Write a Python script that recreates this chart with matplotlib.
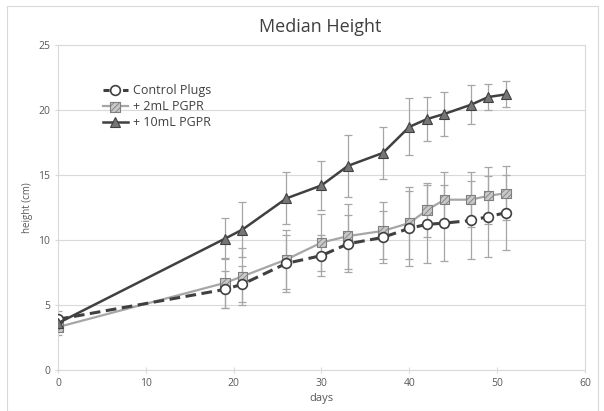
import matplotlib.pyplot as plt
from matplotlib.lines import Line2D
from matplotlib.patches import Rectangle

plt.rcParams['font.family'] = ['Open Sans', 'DejaVu Sans']
plt.rcParams['hatch.color'] = '#6a6a6a'
plt.rcParams['hatch.linewidth'] = 0.6

# data
days = [0, 19, 21, 26, 30, 33, 37, 40, 42, 44, 47, 49, 51]
control = [3.9, 6.2, 6.6, 8.2, 8.8, 9.7, 10.2, 10.9, 11.2, 11.3, 11.5, 11.8, 12.1]
control_err = [0.6, 1.4, 1.4, 2.2, 1.6, 2.2, 2.0, 2.9, 3.0, 2.9, 3.0, 3.1, 2.9]
pgpr_2 = [3.3, 6.7, 7.2, 8.5, 9.8, 10.3, 10.7, 11.3, 12.3, 13.1, 13.1, 13.4, 13.6]
pgpr_2_err = [0.6, 1.9, 2.2, 2.3, 2.2, 2.5, 2.2, 2.8, 2.1, 2.1, 2.1, 2.2, 2.1]
pgpr_10 = [3.6, 10.1, 10.8, 13.2, 14.2, 15.7, 16.7, 18.7, 19.3, 19.7, 20.4, 21.0, 21.2]
pgpr_10_err = [0.5, 1.6, 2.1, 2.0, 1.9, 2.4, 2.0, 2.2, 1.7, 1.7, 1.5, 1.0, 1.0]

labels = ['Control Plugs', '+ 2mL PGPR', '+ 10mL PGPR']
x_ticks = [0, 10, 20, 30, 40, 50, 60]
y_ticks = [0, 5, 10, 15, 20, 25]

dark = '#404040'
light = '#a6a6a6'
grid_col = '#d9d9d9'
text_col = '#595959'

fig = plt.figure(figsize=(6.04, 4.11), dpi=100)
fig.patches.append(Rectangle((0.012, 0.0), 0.978, 0.985, transform=fig.transFigure,
                             fill=False, edgecolor='#d9d9d9', linewidth=0.8))
ax = fig.add_axes([0.096, 0.0998, 0.8725, 0.7907])

# error bars behind the lines
for vals, errs in [(control, control_err), (pgpr_2, pgpr_2_err), (pgpr_10, pgpr_10_err)]:
    ax.errorbar(days, vals, yerr=errs, fmt='none', ecolor=light, elinewidth=0.9,
                capsize=3, capthick=0.9, zorder=2)

ax.plot(days, pgpr_2, color=light, linewidth=1.6, zorder=3)
ax.scatter(days, pgpr_2, marker='s', s=45, facecolor='#c8c8c8', edgecolor='#7f7f7f',
           linewidth=0.8, hatch='//////', zorder=4)
ax.plot(days, control, color=dark, linewidth=2.2, linestyle=(0, (3.5, 1.8)),
        marker='o', markersize=7, markerfacecolor='white', markeredgecolor=dark,
        markeredgewidth=1.2, zorder=5)
ax.plot(days, pgpr_10, color=dark, linewidth=1.8, marker='^', markersize=7.5,
        markerfacecolor='#767676', markeredgecolor=dark, markeredgewidth=0.8, zorder=6)

h_ctrl = Line2D([], [], color=dark, linewidth=2.2, linestyle=(0, (2, 1.2)), marker='o',
                markersize=7, markerfacecolor='white', markeredgecolor=dark, markeredgewidth=1.2)
h_2 = (Line2D([], [], color=light, linewidth=1.6),
       ax.scatter([], [], marker='s', s=45, facecolor='#c8c8c8', edgecolor='#7f7f7f',
                  linewidth=0.8, hatch='//////'))
h_10 = Line2D([], [], color=dark, linewidth=1.8, marker='^', markersize=7.5,
              markerfacecolor='#767676', markeredgecolor=dark, markeredgewidth=0.8)
ax.legend([h_ctrl, h_2, h_10], labels, loc='upper left', bbox_to_anchor=(0.075, 0.895),
          frameon=False, fontsize=9, handlelength=2.0, handletextpad=0.4,
          labelspacing=0.25, borderaxespad=0, labelcolor=dark)

ax.set_xlim(0, 60)
ax.set_ylim(0, 25)
ax.set_xticks(x_ticks)
ax.set_yticks(y_ticks)
ax.yaxis.grid(True, color=grid_col, linewidth=0.8)
ax.set_axisbelow(True)
for side in ['top', 'right', 'left', 'bottom']:
    ax.spines[side].set_color(grid_col)
    ax.spines[side].set_linewidth(0.8)
ax.tick_params(axis='both', colors=grid_col, labelcolor=text_col, labelsize=7.5,
               length=4, direction='inout')
ax.set_xlabel('days', fontsize=8, color=text_col, labelpad=3)
ax.set_ylabel('height (cm)', fontsize=7, color=text_col, labelpad=4)
fig.suptitle('Median Height', x=0.53, y=0.955, fontsize=13, color=dark)

fig.savefig('out.png', dpi=100)
